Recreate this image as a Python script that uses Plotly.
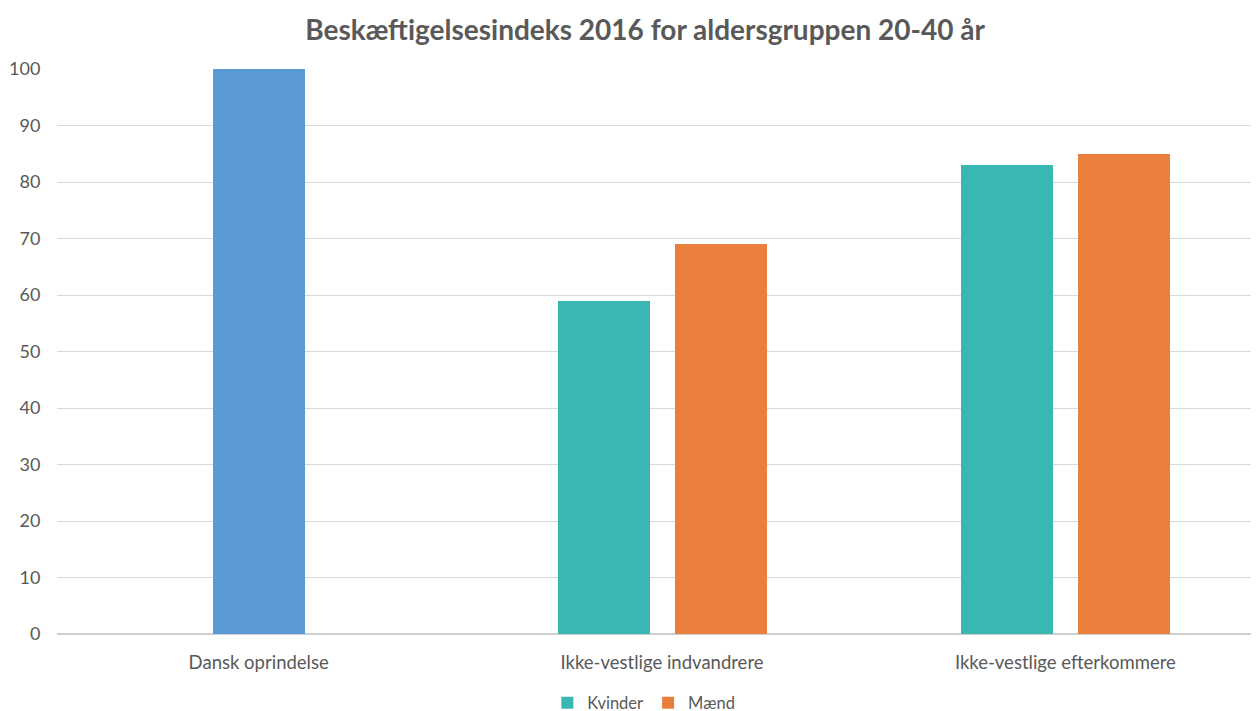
import plotly.graph_objects as go

categories = ["Dansk oprindelse", "Ikke-vestlige indvandrere", "Ikke-vestlige efterkommere"]
dansk_value = [100]
kvinder_values = [59, 83]
maend_values = [69, 85]
y_ticks = list(range(0, 101, 10))

title = "Beskæftigelsesindeks 2016 for aldersgruppen 20-40 år"
FONT = "Lato, 'Open Sans', sans-serif"
GREY = "#595959"

fig = go.Figure()
fig.add_trace(go.Bar(
    x=categories[:1], y=dansk_value, name="Dansk",
    marker=dict(color="#5B9BD5", line=dict(width=0)),
    width=0.228, offset=-0.114, showlegend=False,
))
fig.add_trace(go.Bar(
    x=categories[1:], y=kvinder_values, name="Kvinder",
    marker=dict(color="#3AB6B3", line=dict(width=0)),
    width=0.228, offset=-0.258,
))
fig.add_trace(go.Bar(
    x=categories[1:], y=maend_values, name="Mænd",
    marker=dict(color="#EA7E3C", line=dict(width=0)),
    width=0.228, offset=0.032,
))

fig.update_layout(
    width=1259, height=711,
    barmode="overlay",
    plot_bgcolor="white", paper_bgcolor="white",
    margin=dict(l=49, r=0, t=61, b=85, autoexpand=False),
    title=dict(text="<b>" + title + "</b>", x=0.506, xanchor="center",
               y=0.969, yanchor="middle",
               font=dict(family=FONT, size=28, color=GREY)),
    font=dict(family=FONT, color=GREY, size=17),
    xaxis=dict(
        type="category", categoryorder="array", categoryarray=categories,
        range=[-0.5, 2.5], showgrid=False, showline=False, zeroline=False,
        ticks="outside", ticklen=12, tickcolor="rgba(0,0,0,0)",
        tickfont=dict(size=18.5, color=GREY), automargin=False,
    ),
    yaxis=dict(
        range=[0, 100], tickvals=y_ticks, showgrid=True, gridcolor="#D9D9D9",
        gridwidth=1, zeroline=True, zerolinecolor="#D0D0D0", zerolinewidth=1.5,
        showline=False, ticks="outside", ticklen=12, tickcolor="rgba(0,0,0,0)",
        tickfont=dict(size=18, color=GREY), automargin=False,
    ),
    legend=dict(orientation="h", x=0.485, xanchor="center", y=-0.122,
                yanchor="middle", font=dict(size=16.5, color=GREY),
                itemwidth=30, tracegroupgap=0),
    bargap=0,
)

fig.write_html("out.html")
